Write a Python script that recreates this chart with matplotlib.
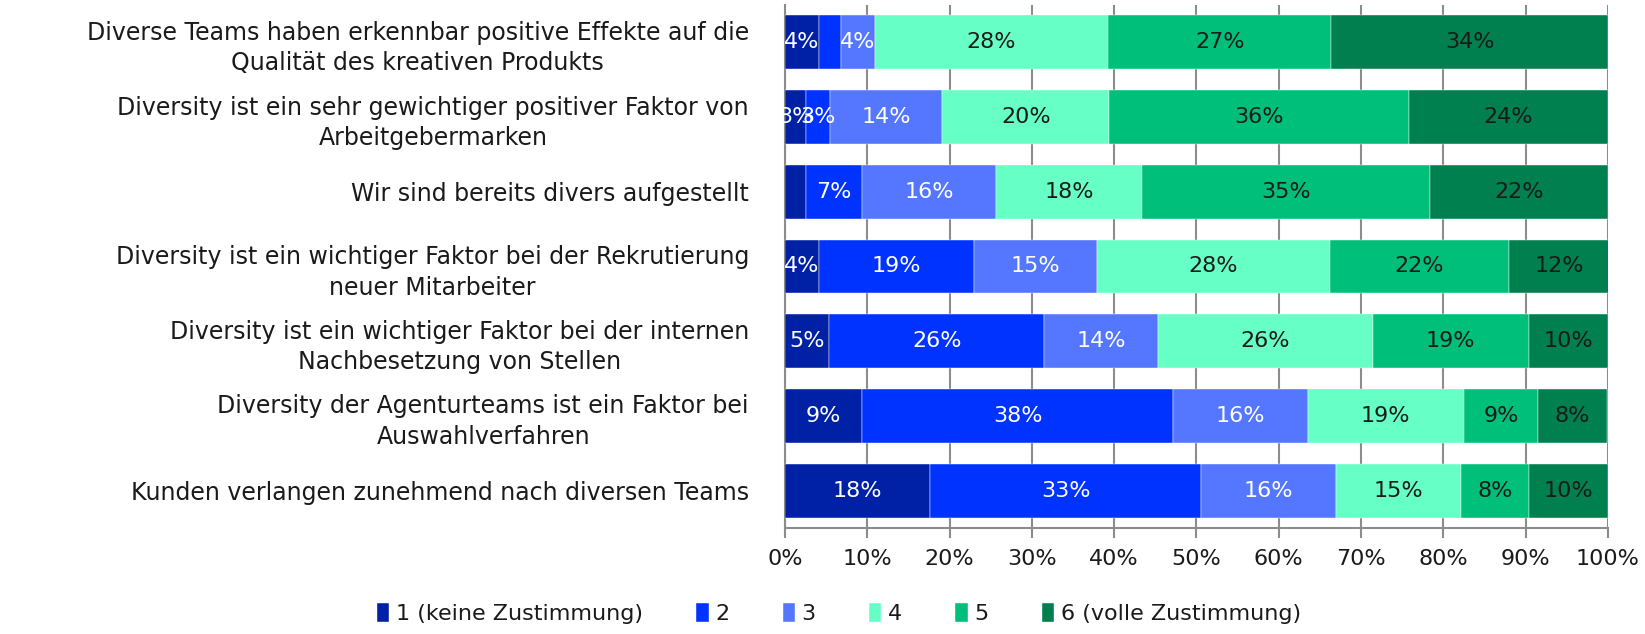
import matplotlib
matplotlib.use("Agg")
import matplotlib.pyplot as plt
import numpy as np

plt.rcParams['font.family'] = ['DejaVu Sans']

# statements, top to bottom
categories = [
    "Diverse Teams haben erkennbar positive Effekte auf die\nQualität des kreativen Produkts",
    "Diversity ist ein sehr gewichtiger positiver Faktor von\nArbeitgebermarken",
    "Wir sind bereits divers aufgestellt",
    "Diversity ist ein wichtiger Faktor bei der Rekrutierung\nneuer Mitarbeiter",
    "Diversity ist ein wichtiger Faktor bei der internen\nNachbesetzung von Stellen",
    "Diversity der Agenturteams ist ein Faktor bei\nAuswahlverfahren",
    "Kunden verlangen zunehmend nach diversen Teams",
]

level_names = ["1 (keine Zustimmung)", "2", "3", "4", "5", "6 (volle Zustimmung)"]

# shares in percent, one list per answer level
level1 = [4.1, 2.6, 2.5, 4.1, 5.4, 9.4, 17.6]
level2 = [2.7, 2.9, 6.9, 18.9, 26.1, 37.8, 33.0]
level3 = [4.1, 13.6, 16.2, 14.9, 13.8, 16.3, 16.3]
level4 = [28.4, 20.3, 17.8, 28.3, 26.1, 19.0, 15.3]
level5 = [27.1, 36.4, 35.0, 21.8, 19.0, 9.0, 8.2]
level6 = [33.6, 24.2, 21.6, 12.1, 9.6, 8.4, 9.6]

# (row, level) pairs whose label is not shown in the original
hidden_labels = [(0, 1), (2, 0)]

colors = ["#0021A5", "#0033FF", "#5577FF", "#66FFC6", "#00BF7A", "#007F4F"]
text_colors = ["white", "white", "white", "#1a1a1a", "#1a1a1a", "#1a1a1a"]

levels = [level1, level2, level3, level4, level5, level6]

fig = plt.figure(figsize=(16.45, 6.34), dpi=100)
ax = fig.add_axes([0.4772, 0.1672, 0.5003, 0.825])

y = np.arange(len(categories))
left = np.zeros(len(categories))
for i, vals in enumerate(levels):
    vals = np.array(vals)
    ax.barh(y, vals, left=left, height=0.72, color=colors[i], label=level_names[i],
            edgecolor="white", linewidth=0.3, zorder=3)
    for r in range(len(categories)):
        if (r, i) in hidden_labels:
            continue
        ax.text(left[r] + vals[r] / 2, y[r], f"{round(vals[r])}%", ha="center", va="center",
                color=text_colors[i], fontsize=16, zorder=4)
    left += vals

ax.set_xlim(0, 100)
ax.set_ylim(len(categories) - 0.5, -0.5)
ax.set_yticks(y)
ax.set_yticklabels(categories, fontsize=17, color="#1a1a1a", ha="right",
                   multialignment="center", linespacing=1.35)
ax.tick_params(axis="y", length=0, pad=26)
ax.set_xticks(np.arange(0, 101, 10))
ax.set_xticklabels([f"{v}%" for v in range(0, 101, 10)], fontsize=16, color="#1a1a1a")
ax.tick_params(axis="x", length=7, width=1.5, color="#8c8c8c", pad=8)
ax.grid(axis="x", color="#8c8c8c", linewidth=1.5, zorder=0)
ax.set_axisbelow(True)
for s in ["top", "right"]:
    ax.spines[s].set_visible(False)
for s in ["left", "bottom"]:
    ax.spines[s].set_color("#8c8c8c")
    ax.spines[s].set_linewidth(1.5)

fig.legend(loc="center", bbox_to_anchor=(0.51, 0.032), ncol=6, frameon=False,
           fontsize=16, handlelength=0.55, handleheight=0.9, handletextpad=0.3,
           columnspacing=2.4, labelcolor="#1a1a1a")

fig.savefig("out.png", dpi=100)
